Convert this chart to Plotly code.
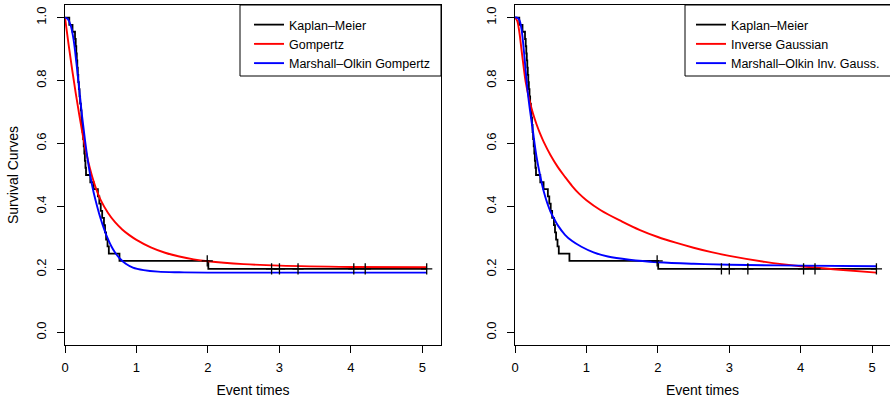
import plotly.graph_objects as go

# ---------------- data ----------------
km_time = [0, 0.06, 0.105,
           0.14, 0.15, 0.158, 0.165, 0.172, 0.179, 0.186, 0.194, 0.203, 0.212,
           0.222, 0.23, 0.238, 0.246, 0.254, 0.262, 0.27, 0.278, 0.286, 0.294,
           0.354, 0.40,
           0.46, 0.48, 0.50, 0.52, 0.545, 0.56, 0.575, 0.595, 0.613,
           0.762, 2.005, 5.06]
km_surv = [1.0, 0.977, 0.955,
           0.932, 0.909, 0.886, 0.864, 0.841, 0.818, 0.795, 0.773, 0.75, 0.727,
           0.705, 0.682, 0.659, 0.636, 0.614, 0.591, 0.568, 0.545, 0.523, 0.5,
           0.477, 0.455,
           0.432, 0.409, 0.386, 0.364, 0.341, 0.318, 0.295, 0.273, 0.25,
           0.227, 0.202, 0.202]
cens_time = [1.99, 2.89, 3.0, 3.26, 4.04, 4.2, 5.06]
cens_surv = [0.227, 0.202, 0.202, 0.202, 0.202, 0.202, 0.202]

gomp_time = [0, 0.05, 0.10, 0.15, 0.20, 0.25, 0.30, 0.35, 0.40, 0.45, 0.50, 0.60, 0.70,
             0.80, 0.90, 1.0, 1.2, 1.4, 1.6, 1.8, 2.0, 2.5, 3.0, 4.0, 5.06]
gomp_surv = [1.0, 0.915, 0.835, 0.76, 0.69, 0.625, 0.567, 0.52, 0.48, 0.447, 0.42, 0.38, 0.35,
             0.327, 0.309, 0.294, 0.27, 0.253, 0.241, 0.232, 0.226, 0.217, 0.212, 0.208, 0.207]

mog_time = [0, 0.04, 0.08, 0.12, 0.16, 0.20, 0.24, 0.28, 0.32, 0.36, 0.40, 0.45, 0.50,
            0.55, 0.60, 0.65, 0.70, 0.77, 0.85, 0.95, 1.1, 1.3, 1.6, 2.0, 3.0, 5.06]
mog_surv = [1.0, 0.995, 0.975, 0.93, 0.855, 0.77, 0.685, 0.61, 0.545, 0.49, 0.445, 0.40, 0.36,
            0.326, 0.297, 0.273, 0.254, 0.234, 0.218, 0.206, 0.198, 0.193, 0.191, 0.19, 0.19, 0.19]

ig_time = [0, 0.03, 0.06, 0.09, 0.12, 0.15, 0.20, 0.25, 0.30, 0.35, 0.40, 0.50, 0.60,
           0.70, 0.80, 0.90, 1.0, 1.2, 1.5, 1.75, 2.0, 2.25, 2.5, 2.75, 3.0, 3.5, 4.0, 4.5, 5.06]
ig_surv = [1.0, 0.99, 0.955, 0.90, 0.845, 0.795, 0.74, 0.697, 0.662, 0.632, 0.606, 0.562, 0.525,
           0.494, 0.465, 0.44, 0.42, 0.388, 0.352, 0.325, 0.303, 0.285, 0.269, 0.255, 0.243,
           0.224, 0.21, 0.2, 0.19]

moig_time = [0, 0.03, 0.06, 0.09, 0.12, 0.15, 0.18, 0.21, 0.25, 0.30, 0.35, 0.40, 0.45,
             0.50, 0.55, 0.60, 0.70, 0.80, 0.93, 1.1, 1.3, 1.6, 2.0, 2.5, 3.0, 4.0, 5.06]
moig_surv = [1.0, 1.0, 0.993, 0.965, 0.905, 0.83, 0.76, 0.705, 0.64, 0.56, 0.50, 0.45, 0.412,
             0.382, 0.36, 0.34, 0.31, 0.29, 0.272, 0.254, 0.241, 0.231, 0.223, 0.218, 0.215,
             0.212, 0.21]

x_ticks = [0, 1, 2, 3, 4, 5]
y_ticks = [0.0, 0.2, 0.4, 0.6, 0.8, 1.0]
y_ticklabels = ["0.0", "0.2", "0.4", "0.6", "0.8", "1.0"]

panels = [
    dict(xa="x", ya="y", legend="legend",
         names=["Kaplan\u2013Meier", "Gompertz", "Marshall\u2013Olkin Gompertz"],
         red=(gomp_time, gomp_surv), blue=(mog_time, mog_surv)),
    dict(xa="x2", ya="y2", legend="legend2",
         names=["Kaplan\u2013Meier", "Inverse Gaussian", "Marshall\u2013Olkin Inv. Gauss."],
         red=(ig_time, ig_surv), blue=(moig_time, moig_surv)),
]

FONT = "Liberation Sans, Arial, Helvetica, sans-serif"
W, H = 890, 403

fig = go.Figure()
for p in panels:
    fig.add_trace(go.Scatter(x=km_time, y=km_surv, mode="lines", line_shape="hv",
                             line=dict(color="black", width=1.8), name=p["names"][0],
                             xaxis=p["xa"], yaxis=p["ya"], legend=p["legend"]))
    fig.add_trace(go.Scatter(x=p["red"][0], y=p["red"][1], mode="lines", line_shape="spline",
                             line=dict(color="#FF0000", width=1.9), name=p["names"][1],
                             xaxis=p["xa"], yaxis=p["ya"], legend=p["legend"]))
    fig.add_trace(go.Scatter(x=p["blue"][0], y=p["blue"][1], mode="lines", line_shape="spline",
                             line=dict(color="#0000FF", width=1.9), name=p["names"][2],
                             xaxis=p["xa"], yaxis=p["ya"], legend=p["legend"]))
    fig.add_trace(go.Scatter(x=cens_time, y=cens_surv, mode="markers",
                             marker=dict(symbol="cross-thin", size=8,
                                         line=dict(color="black", width=1.3)),
                             showlegend=False, xaxis=p["xa"], yaxis=p["ya"]))

def xax(domain, rng):
    return dict(domain=domain, range=rng, tickvals=x_ticks, ticks="outside",
                ticklen=7, tickcolor="black", tickwidth=1, showline=True, mirror=True,
                linecolor="black", linewidth=1, showgrid=False, zeroline=False,
                ticklabelstandoff=3,
                tickfont=dict(size=13, color="black", family=FONT),
                title=dict(text="Event times", font=dict(size=14, color="black", family=FONT),
                           standoff=11),
                automargin=False, fixedrange=True)

def yax(anchor, title, mirror):
    d = dict(domain=[1 - 345 / H, 1 - 5 / H], range=[-0.04, 1.04], tickvals=y_ticks,
             ticktext=y_ticklabels, ticks="outside", ticklen=7, tickcolor="black",
             tickwidth=1, tickangle=-90, showline=True, mirror=mirror, linecolor="black",
             linewidth=1, showgrid=False, zeroline=False, anchor=anchor,
             ticklabelstandoff=6,
             tickfont=dict(size=13, color="black", family=FONT),
             automargin=False, fixedrange=True)
    if title:
        d["title"] = dict(text=title, font=dict(size=14, color="black", family=FONT), standoff=11)
    return d

leg_common = dict(borderwidth=0, bgcolor="rgba(0,0,0,0)",
                  font=dict(size=12.5, color="black", family=FONT),
                  yanchor="top", xanchor="left", itemwidth=30, tracegroupgap=0)

# white legend boxes (R style), drawn under the legend entries
legend_boxes = [(240, 441), (685, 891)]
shapes = [dict(type="rect", xref="paper", yref="paper",
               x0=a / W, x1=b / W, y0=1 - 76 / H, y1=1 - 5 / H,
               line=dict(color="black", width=1), fillcolor="white", layer="above")
          for a, b in legend_boxes]

fig.update_layout(
    width=W, height=H,
    margin=dict(l=0, r=0, t=0, b=0),
    paper_bgcolor="white", plot_bgcolor="white",
    showlegend=True,
    xaxis=xax([65 / W, 441 / W], [0, 5.26]),
    yaxis=yax("x", "Survival Curves", True),
    xaxis2=xax([515 / W, 1.0], [0, 5.25]),
    yaxis2=yax("x2", None, False),
    legend=dict(x=249 / W, y=1 - 10 / H, **leg_common),
    legend2=dict(x=691 / W, y=1 - 10 / H, **leg_common),
    shapes=shapes,
)

fig.write_html("out.html", config={"displayModeBar": False},
               post_script="document.body.style.margin='0';")
